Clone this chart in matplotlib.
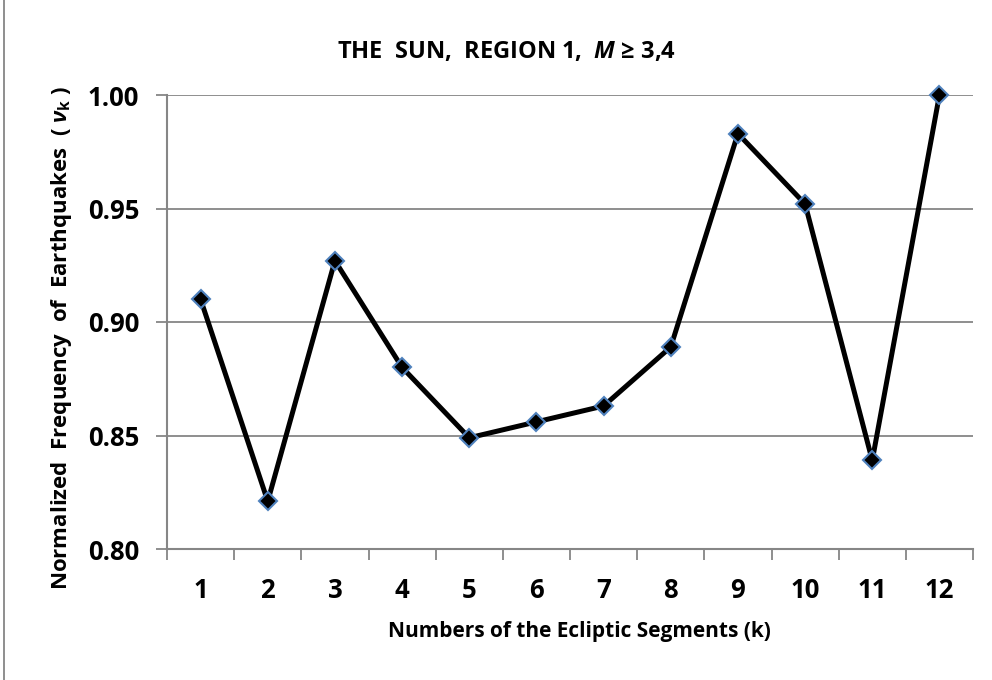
import numpy as np
import matplotlib
matplotlib.use("Agg")
import matplotlib.pyplot as plt
from matplotlib.lines import Line2D

plt.rcParams['font.family'] = ['Open Sans', 'DejaVu Sans']
plt.rcParams['mathtext.fontset'] = 'custom'
plt.rcParams['mathtext.it'] = 'Open Sans:italic:bold'
plt.rcParams['mathtext.rm'] = 'Open Sans:bold'
plt.rcParams['mathtext.bf'] = 'Open Sans:bold'

segments = [1, 2, 3, 4, 5, 6, 7, 8, 9, 10, 11, 12]
freq = [0.910, 0.821, 0.927, 0.880, 0.849, 0.856, 0.863, 0.889, 0.983, 0.952, 0.839, 1.000]
yticks = [0.80, 0.85, 0.90, 0.95, 1.00]

grey = "#868686"

fig = plt.figure(figsize=(9.92, 6.8), dpi=100)
ax = fig.add_axes([167/992, 1 - 549/680, (973-167)/992, (549-95)/680])

ax.plot(segments, freq, color="black", lw=3.6, marker="D", markersize=9.5,
        markerfacecolor="black", markeredgecolor="#4f81bd", markeredgewidth=1.5,
        zorder=3, clip_on=False)

ax.set_xlim(0.5, 12.5)
ax.set_ylim(0.80, 1.00)
ax.set_yticks(yticks)
ax.set_yticklabels(["%.2f" % v for v in yticks])
ax.set_xticks(segments)
ax.set_xticklabels([str(s) for s in segments])
ax.set_xticks(np.arange(0.5, 13, 1), minor=True)
ax.tick_params(axis="x", which="major", length=0, pad=20, labelsize=18.5)
ax.tick_params(axis="x", which="minor", length=8, width=1.3, color=grey, direction="out")
ax.tick_params(axis="y", which="major", length=8, width=1.3, color=grey, direction="out",
               pad=12, labelsize=18.5)
for lab in ax.get_xticklabels() + ax.get_yticklabels():
    lab.set_fontweight("bold")

ax.grid(axis="y", color=grey, lw=1.3)
ax.set_axisbelow(True)
for side in ["top", "right"]:
    ax.spines[side].set_visible(False)
for side in ["left", "bottom"]:
    ax.spines[side].set_color(grey)
    ax.spines[side].set_linewidth(1.5)

fig.text(506/992, 1 - 52/680, "THE  SUN,  REGION 1,  $M$ \u2265 3,4", ha="center", va="center",
         fontsize=17, fontweight="bold")
fig.text(579/992, 1 - 631/680, "Numbers of the Ecliptic Segments (k)", ha="center", va="center",
         fontsize=15, fontweight="bold")
fig.text(62/992, 1 - 338/680, "Normalized  Frequency  of  Earthquakes  ( $\\nu_{\\mathrm{k}}$ )",
         ha="center", va="center", rotation=90, fontsize=16, fontweight="bold")

fig.add_artist(Line2D([4/992, 4/992], [0, 1], color=grey, lw=1.3))

fig.savefig("out.png", dpi=100)
